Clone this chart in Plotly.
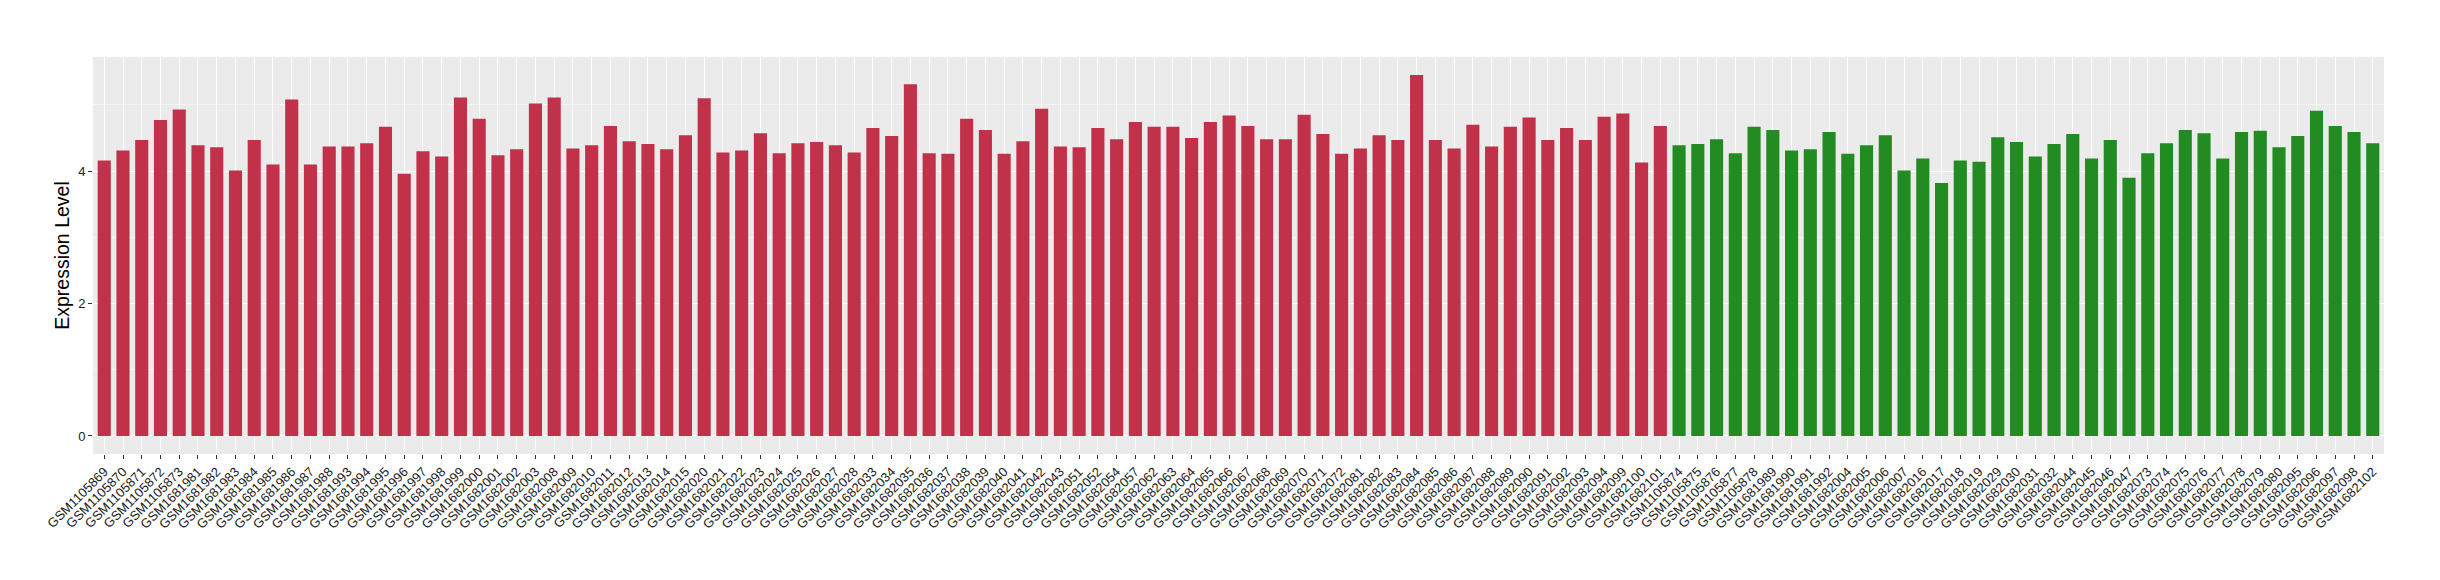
import plotly.graph_objects as go

group_a_samples = [
    "GSM1105869", "GSM1105870", "GSM1105871", "GSM1105872", "GSM1105873",
    "GSM1681981", "GSM1681982", "GSM1681983", "GSM1681984", "GSM1681985",
    "GSM1681986", "GSM1681987", "GSM1681988", "GSM1681993", "GSM1681994",
    "GSM1681995", "GSM1681996", "GSM1681997", "GSM1681998", "GSM1681999",
    "GSM1682000", "GSM1682001", "GSM1682002", "GSM1682003", "GSM1682008",
    "GSM1682009", "GSM1682010", "GSM1682011", "GSM1682012", "GSM1682013",
    "GSM1682014", "GSM1682015", "GSM1682020", "GSM1682021", "GSM1682022",
    "GSM1682023", "GSM1682024", "GSM1682025", "GSM1682026", "GSM1682027",
    "GSM1682028", "GSM1682033", "GSM1682034", "GSM1682035", "GSM1682036",
    "GSM1682037", "GSM1682038", "GSM1682039", "GSM1682040", "GSM1682041",
    "GSM1682042", "GSM1682043", "GSM1682051", "GSM1682052", "GSM1682054",
    "GSM1682057", "GSM1682062", "GSM1682063", "GSM1682064", "GSM1682065",
    "GSM1682066", "GSM1682067", "GSM1682068", "GSM1682069", "GSM1682070",
    "GSM1682071", "GSM1682072", "GSM1682081", "GSM1682082", "GSM1682083",
    "GSM1682084", "GSM1682085", "GSM1682086", "GSM1682087", "GSM1682088",
    "GSM1682089", "GSM1682090", "GSM1682091", "GSM1682092", "GSM1682093",
    "GSM1682094", "GSM1682099", "GSM1682100", "GSM1682101",
]
group_a_values = [
    4.16, 4.31, 4.47, 4.77, 4.93, 4.39, 4.36, 4.01, 4.47, 4.10,
    5.08, 4.10, 4.37, 4.37, 4.42, 4.67, 3.96, 4.30, 4.22, 5.11,
    4.79, 4.24, 4.33, 5.02, 5.11, 4.34, 4.39, 4.68, 4.45, 4.41,
    4.33, 4.54, 5.10, 4.28, 4.31, 4.57, 4.27, 4.42, 4.44, 4.39,
    4.28, 4.65, 4.53, 5.31, 4.27, 4.26, 4.79, 4.62, 4.26, 4.45,
    4.94, 4.37, 4.36, 4.65, 4.48, 4.74, 4.67, 4.67, 4.50, 4.74,
    4.84, 4.68, 4.48, 4.48, 4.85, 4.56, 4.26, 4.34, 4.54, 4.47,
    5.45, 4.47, 4.34, 4.70, 4.37, 4.67, 4.81, 4.47, 4.65, 4.47,
    4.82, 4.87, 4.13, 4.68,
]

group_b_samples = [
    "GSM1105874", "GSM1105875", "GSM1105876", "GSM1105877", "GSM1105878",
    "GSM1681989", "GSM1681990", "GSM1681991", "GSM1681992", "GSM1682004",
    "GSM1682005", "GSM1682006", "GSM1682007", "GSM1682016", "GSM1682017",
    "GSM1682018", "GSM1682019", "GSM1682029", "GSM1682030", "GSM1682031",
    "GSM1682032", "GSM1682044", "GSM1682045", "GSM1682046", "GSM1682047",
    "GSM1682073", "GSM1682074", "GSM1682075", "GSM1682076", "GSM1682077",
    "GSM1682078", "GSM1682079", "GSM1682080", "GSM1682095", "GSM1682096",
    "GSM1682097", "GSM1682098", "GSM1682102",
]
group_b_values = [
    4.39, 4.41, 4.48, 4.27, 4.67, 4.62, 4.31, 4.33, 4.59, 4.26,
    4.39, 4.54, 4.01, 4.19, 3.82, 4.16, 4.14, 4.51, 4.44, 4.22,
    4.41, 4.56, 4.19, 4.47, 3.90, 4.27, 4.42, 4.62, 4.57, 4.19,
    4.59, 4.61, 4.36, 4.53, 4.91, 4.68, 4.59, 4.42,
]

y_ticks = [0, 2, 4]
y_title = "Expression Level"

all_samples = group_a_samples + group_b_samples
ymax = max(group_a_values + group_b_values)

fig = go.Figure()
fig.add_trace(go.Bar(x=group_a_samples, y=group_a_values, width=0.7,
                     marker=dict(color="#C2314A", line=dict(width=0)),
                     showlegend=False))
fig.add_trace(go.Bar(x=group_b_samples, y=group_b_values, width=0.7,
                     marker=dict(color="#228B22", line=dict(width=0)),
                     showlegend=False))

font_family = "Liberation Sans, Arial, sans-serif"
text_color = "#222222"
fig.update_layout(
    width=2432, height=572,
    margin=dict(l=85, r=56, t=49, b=126, autoexpand=False),
    paper_bgcolor="white",
    plot_bgcolor="#EBEBEB",
    barmode="overlay",
    font=dict(family=font_family, color=text_color),
    xaxis=dict(
        type="category",
        categoryorder="array",
        categoryarray=all_samples,
        range=[-0.6, len(all_samples) - 0.4],
        tickangle=-45,
        tickfont=dict(size=13, color=text_color, family=font_family),
        ticks="outside", ticklen=4, tickwidth=1, tickcolor="#333333",
        showgrid=True, gridcolor="white", gridwidth=1.1,
        showline=False, zeroline=False, automargin=False,
    ),
    yaxis=dict(
        range=[-0.05 * ymax, 1.05 * ymax],
        tickmode="array", tickvals=y_ticks, ticktext=[str(v) for v in y_ticks],
        tickfont=dict(size=13, color=text_color, family=font_family),
        ticks="outside", ticklen=4, tickwidth=1, tickcolor="#333333",
        showgrid=True, gridcolor="white", gridwidth=1.1,
        minor=dict(dtick=1, tick0=0, showgrid=True, gridcolor="#F5F5F5", gridwidth=0.6, ticks=""),
        zeroline=False, showline=False, automargin=False,
        title=dict(text=y_title, font=dict(size=19.5, color="black", family=font_family), standoff=3),
    ),
)

fig.write_html("out.html")
